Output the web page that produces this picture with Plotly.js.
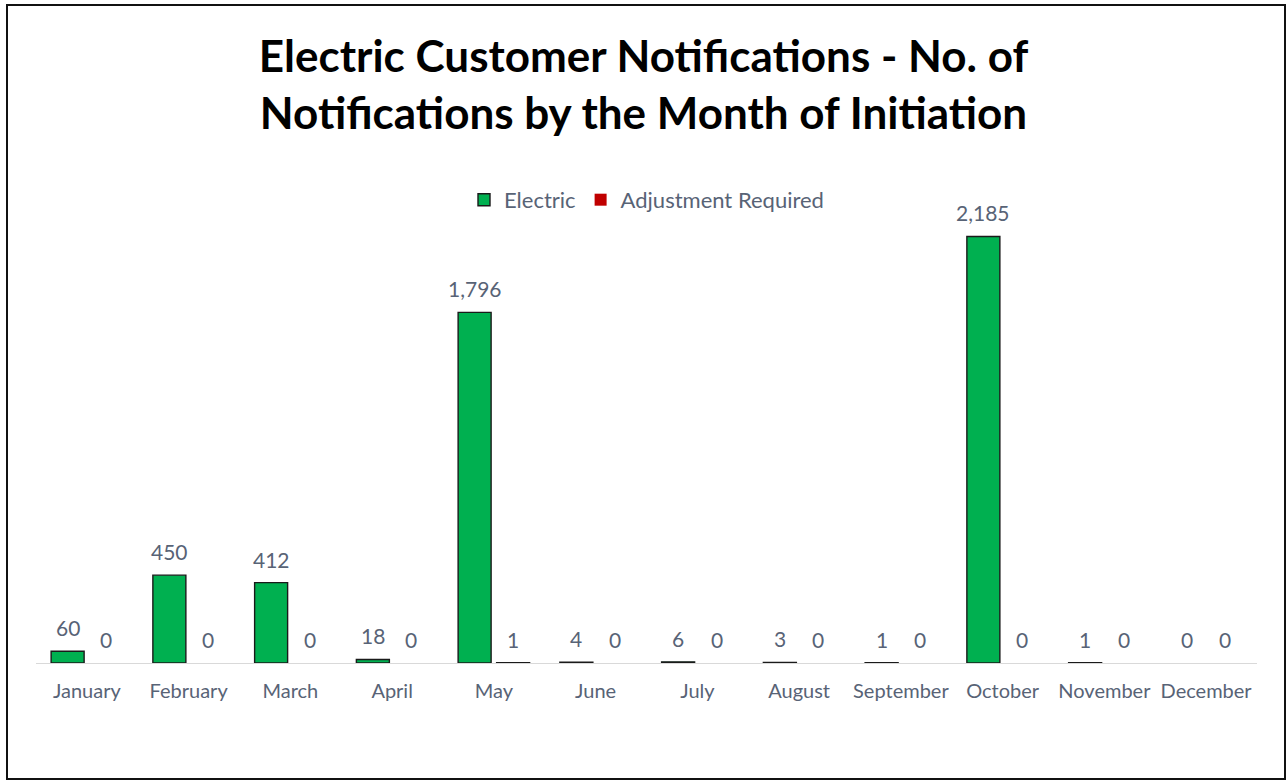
<!DOCTYPE html>
<html><head><meta charset="utf-8">
<script src="https://cdn.plot.ly/plotly-3.0.1.min.js"></script>
<style>
html,body{margin:0;padding:0;background:#fff;}
#chart{position:absolute;left:0;top:0;width:1287px;height:781px;}
#frame{position:absolute;left:6px;top:4px;width:1276px;height:772px;border:2px solid #111;pointer-events:none;}
</style></head>
<body>
<div id="chart"></div>
<div id="frame"></div>
<script>
const months = ["January","February","March","April","May","June","July","August","September","October","November","December"];
const electric = [60,450,412,18,1796,4,6,3,1,2185,1,0];
const adjustment = [0,0,0,0,1,0,0,0,0,0,0,0];

const txtColor = "#586376";
const fontFam = "Lato, 'Open Sans', sans-serif";
const lw = v => (v === 0 ? 0 : 1.4);

const traces = [
  {
    type:"bar", name:"Electric", x:months, y:electric,
    marker:{color:"#00B050", line:{color:"#1a1a1a", width:electric.map(lw)}},
    hoverinfo:"x+y"
  },
  {
    type:"bar", name:"Adjustment Required", x:months, y:adjustment,
    marker:{color:"#C00000", line:{color:"#1a1a1a", width:adjustment.map(lw)}},
    hoverinfo:"x+y"
  }
];

// data labels as annotations, shifted onto each grouped bar
const slotShift = 19.26;
const fmt = v => v.toLocaleString("en-US");
const annotations = [];
months.forEach((m, i) => {
  annotations.push({x:m, y:electric[i], xref:"x", yref:"y", text:fmt(electric[i]),
    showarrow:false, xanchor:"center", yanchor:"bottom", xshift:-slotShift, yshift:9,
    font:{family:fontFam, size:21, color:txtColor}});
  annotations.push({x:m, y:adjustment[i], xref:"x", yref:"y", text:fmt(adjustment[i]),
    showarrow:false, xanchor:"center", yanchor:"bottom", xshift:slotShift, yshift:9,
    font:{family:fontFam, size:21, color:txtColor}});
});

const layout = {
  width:1287, height:781,
  margin:{l:36, r:30, t:175, b:118},
  paper_bgcolor:"#fff", plot_bgcolor:"#fff",
  font:{family:fontFam, color:txtColor},
  title:{
    text:"<b>Electric Customer Notifications - No. of<br>Notifications by the Month of Initiation</b>",
    x:0.5, xanchor:"center", y:0.908, yanchor:"middle",
    font:{family:fontFam, size:44, color:"#000"}
  },
  barmode:"group", bargap:0.243, bargroupgap:0.143,
  showlegend:true,
  legend:{orientation:"h", x:0.5, xanchor:"center", y:0.949, yanchor:"middle",
    font:{family:fontFam, size:22, color:txtColor}, itemwidth:30, traceorder:"normal"},
  xaxis:{type:"category", showline:true, linecolor:"#D9D9D9", linewidth:1,
    showgrid:false, ticks:"", tickfont:{family:fontFam, size:20, color:txtColor},
    ticklabelstandoff:10, fixedrange:true},
  yaxis:{range:[0,2500], visible:false, showgrid:false, zeroline:false, fixedrange:true},
  annotations:annotations
};

Plotly.newPlot("chart", traces, layout, {displayModeBar:false, staticPlot:true});
</script>
</body></html>
